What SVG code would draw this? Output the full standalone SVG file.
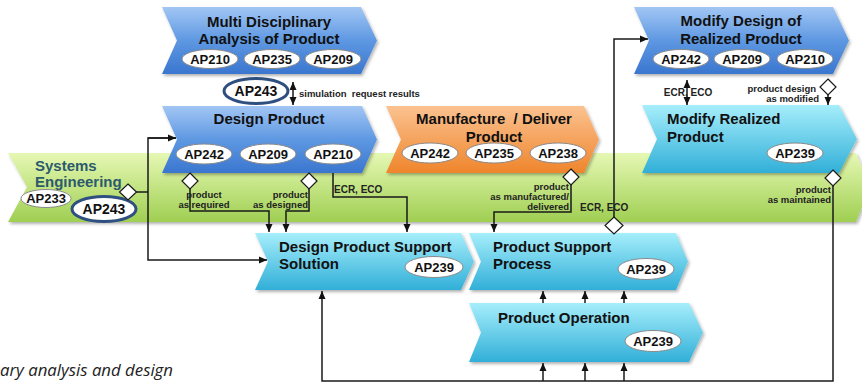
<svg xmlns="http://www.w3.org/2000/svg" width="862" height="385" viewBox="0 0 862 385">
<defs>
<linearGradient id="gGreen" x1="0" y1="0" x2="0" y2="1"><stop offset="0" stop-color="#e6f8b4"/><stop offset="1" stop-color="#9fcf52"/></linearGradient>
<linearGradient id="gBlue" x1="0" y1="0" x2="0" y2="1"><stop offset="0" stop-color="#a2c6f4"/><stop offset="0.5" stop-color="#5e98e2"/><stop offset="1" stop-color="#3a76cf"/></linearGradient>
<linearGradient id="gCyan" x1="0" y1="0" x2="0" y2="1"><stop offset="0" stop-color="#a6eefb"/><stop offset="1" stop-color="#31afd8"/></linearGradient>
<linearGradient id="gOrange" x1="0" y1="0" x2="0" y2="1"><stop offset="0" stop-color="#fbc290"/><stop offset="1" stop-color="#ef852c"/></linearGradient>
<filter id="sh" x="-10%" y="-10%" width="120%" height="130%"><feDropShadow dx="1.5" dy="2" stdDeviation="1.5" flood-color="#000" flood-opacity="0.3"/></filter>
<marker id="ar" markerUnits="userSpaceOnUse" markerWidth="8" markerHeight="8" refX="8" refY="4" orient="auto-start-reverse"><path d="M0,0.5 L8,4 L0,7.5 z" fill="#111"/></marker>
</defs>
<style>
.title{font-family:"Liberation Sans",Arial,sans-serif;font-weight:bold;font-size:15px;fill:#111}
.se{font-family:"Liberation Sans",Arial,sans-serif;font-weight:bold;font-size:15px;fill:#2d5a6c}
.ap{font-family:"Liberation Sans",Arial,sans-serif;font-weight:bold;font-size:13px;fill:#111;text-anchor:middle}
.ap2{font-family:"Liberation Sans",Arial,sans-serif;font-weight:bold;font-size:14px;fill:#111;text-anchor:middle}
.lbl{font-family:"Liberation Sans",Arial,sans-serif;font-weight:bold;font-size:9.5px;fill:#222}
.ecr{font-family:"Liberation Sans",Arial,sans-serif;font-weight:bold;font-size:10px;fill:#222}
.ell{fill:#fff;stroke:#8a8a8a;stroke-width:1}
.ellb{fill:#fff;stroke:#2f4f80;stroke-width:3}
.con{fill:none;stroke:#1a1a1a;stroke-width:1.5}
.dia{fill:#fff;stroke:#1a1a1a;stroke-width:1.2}
.note{font-family:"Open Sans",Lato,sans-serif;font-style:italic;font-size:17px;fill:#222}
</style>

<g id="systems-engineering">
<path d="M8,153 L856,153 L870,187 L856,222 L8,222 L27,187 z" fill="url(#gGreen)" filter="url(#sh)"/>
<text class="se" x="35" y="171">Systems</text>
<text class="se" x="35" y="187">Engineering</text>
<ellipse class="ell" cx="46" cy="198.5" rx="25" ry="9"/>
<text class="ap" x="46" y="203">AP233</text>
<ellipse class="ellb" cx="104" cy="209" rx="32" ry="12.5"/>
<text class="ap2" x="104" y="214">AP243</text>
</g>

<g id="multi-disciplinary">
<path d="M162,7 L361,7 L377,40.5 L361,74 L162,74 L177,40.5 z" fill="url(#gBlue)" filter="url(#sh)"/>
<text class="title" x="269" y="27" text-anchor="middle">Multi Disciplinary</text>
<text class="title" x="269" y="44" text-anchor="middle">Analysis of Product</text>
<ellipse class="ell" cx="210" cy="59" rx="28" ry="9.5"/><text class="ap" x="210" y="64">AP210</text>
<ellipse class="ell" cx="272" cy="59" rx="28" ry="9.5"/><text class="ap" x="272" y="64">AP235</text>
<ellipse class="ell" cx="333" cy="59" rx="28" ry="9.5"/><text class="ap" x="333" y="64">AP209</text>
</g>

<g id="ap243-sim">
<ellipse class="ellb" cx="256" cy="91" rx="32" ry="12.5"/>
<text class="ap2" x="256" y="96">AP243</text>
</g>

<g id="design-product">
<path d="M162,106 L362,106 L377,139.5 L362,173 L162,173 L177,139.5 z" fill="url(#gBlue)" filter="url(#sh)"/>
<text class="title" x="269" y="124" text-anchor="middle">Design Product</text>
<ellipse class="ell" cx="204" cy="154" rx="28" ry="10"/><text class="ap" x="204" y="159">AP242</text>
<ellipse class="ell" cx="268" cy="154" rx="28" ry="10"/><text class="ap" x="268" y="159">AP209</text>
<ellipse class="ell" cx="333" cy="154" rx="28" ry="10"/><text class="ap" x="333" y="159">AP210</text>
</g>

<g id="manufacture-deliver">
<path d="M386,106 L584,106 L599,139.5 L584,173 L386,173 L401,139.5 z" fill="url(#gOrange)" filter="url(#sh)"/>
<text class="title" x="494" y="124" text-anchor="middle" xml:space="preserve">Manufacture  / Deliver</text>
<text class="title" x="494" y="142" text-anchor="middle">Product</text>
<ellipse class="ell" cx="430" cy="153" rx="28" ry="10"/><text class="ap" x="430" y="158">AP242</text>
<ellipse class="ell" cx="494" cy="153" rx="28" ry="10"/><text class="ap" x="494" y="158">AP235</text>
<ellipse class="ell" cx="558" cy="153" rx="28" ry="10"/><text class="ap" x="558" y="158">AP238</text>
</g>

<g id="modify-design">
<path d="M634,7 L833,7 L849,40.5 L833,74 L634,74 L649,40.5 z" fill="url(#gBlue)" filter="url(#sh)"/>
<text class="title" x="741" y="26" text-anchor="middle">Modify Design of</text>
<text class="title" x="741" y="44" text-anchor="middle">Realized Product</text>
<ellipse class="ell" cx="681" cy="59" rx="28" ry="9.5"/><text class="ap" x="681" y="64">AP242</text>
<ellipse class="ell" cx="742" cy="59" rx="28" ry="9.5"/><text class="ap" x="742" y="64">AP209</text>
<ellipse class="ell" cx="805" cy="59" rx="28" ry="9.5"/><text class="ap" x="805" y="64">AP210</text>
</g>

<g id="modify-realized">
<path d="M642,105 L839,105 L857,139 L839,173 L642,173 L657,139 z" fill="url(#gCyan)" filter="url(#sh)"/>
<text class="title" x="667" y="124">Modify Realized</text>
<text class="title" x="667" y="142">Product</text>
<ellipse class="ell" cx="795" cy="153" rx="28" ry="10"/><text class="ap" x="795" y="158">AP239</text>
</g>

<g id="design-product-support">
<path d="M255,233 L461,233 L474,261.5 L461,290 L255,290 L268,261.5 z" fill="url(#gCyan)" filter="url(#sh)"/>
<text class="title" x="279" y="252">Design Product Support</text>
<text class="title" x="279" y="269">Solution</text>
<ellipse class="ell" cx="434" cy="267" rx="29" ry="10.5"/><text class="ap" x="434" y="272">AP239</text>
</g>

<g id="product-support-process">
<path d="M469,233 L676,233 L688,261.5 L676,290 L469,290 L481,261.5 z" fill="url(#gCyan)" filter="url(#sh)"/>
<text class="title" x="493" y="252">Product Support</text>
<text class="title" x="493" y="269">Process</text>
<ellipse class="ell" cx="646" cy="269" rx="28" ry="10.5"/><text class="ap" x="646" y="274">AP239</text>
</g>

<g id="product-operation">
<path d="M469,303 L689,303 L703,332.5 L689,362 L469,362 L481,332.5 z" fill="url(#gCyan)" filter="url(#sh)"/>
<text class="title" x="498" y="323">Product Operation</text>
<ellipse class="ell" cx="653" cy="341" rx="28" ry="10.5"/><text class="ap" x="653" y="346">AP239</text>
</g>

<g id="connectors">
<path class="con" d="M136,192 H148"/>
<path class="con" d="M176,138 H148 V260 H267" marker-end="url(#ar)"/>
<path class="con" d="M148,138 H176" marker-end="url(#ar)"/>
<path class="con" d="M190,189 V211 H269 V232" marker-end="url(#ar)"/>
<path class="con" d="M309,189 V211 H286 V232" marker-end="url(#ar)"/>
<path class="con" d="M333,173 V197 H407 V232" marker-end="url(#ar)"/>
<path class="con" d="M571,185 V212 H494 V232" marker-end="url(#ar)"/>
<path class="con" d="M614,217 V39 H648" marker-end="url(#ar)"/>
<path class="con" d="M833,186 V381 H322 V291" marker-end="url(#ar)"/>
<path class="con" d="M543,381 V363" marker-end="url(#ar)"/>
<path class="con" d="M585,381 V363" marker-end="url(#ar)"/>
<path class="con" d="M624,381 V363" marker-end="url(#ar)"/>
<path class="con" d="M543,303 V291" marker-end="url(#ar)"/>
<path class="con" d="M585,303 V291" marker-end="url(#ar)"/>
<path class="con" d="M624,303 V291" marker-end="url(#ar)"/>
<path class="con" d="M293,82 V105" marker-start="url(#ar)" marker-end="url(#ar)"/>
<path class="con" d="M687,80 V105" marker-start="url(#ar)" marker-end="url(#ar)"/>
<path class="con" d="M828,95 V105" marker-end="url(#ar)"/>
<polygon class="dia" points="128,184 136.5,192 128,200 119.5,192"/>
<polygon class="dia" points="190,173 198,181 190,189 182,181"/>
<polygon class="dia" points="309,173 317,181 309,189 301,181"/>
<polygon class="dia" points="571,169 579,177 571,185 563,177"/>
<polygon class="dia" points="614,217 623,225.5 614,234 605,225.5"/>
<polygon class="dia" points="833,170 841,178 833,186 825,178"/>
<polygon class="dia" points="828,79 836,87 828,95 820,87"/>
<text class="lbl" x="299" y="96.5" xml:space="preserve">simulation  request results</text>
<text class="lbl" x="204" y="197.5" text-anchor="middle">product</text>
<text class="lbl" x="204" y="207.5" text-anchor="middle">as required</text>
<text class="lbl" x="308" y="197.5" text-anchor="end">product</text>
<text class="lbl" x="308" y="207.5" text-anchor="end">as designed</text>
<text class="ecr" x="334" y="193">ECR, ECO</text>
<text class="lbl" x="569" y="189.5" text-anchor="end">product</text>
<text class="lbl" x="569" y="199.5" text-anchor="end">as manufactured/</text>
<text class="lbl" x="569" y="209.5" text-anchor="end">delivered</text>
<text class="ecr" x="580" y="211">ECR, ECO</text>
<text class="ecr" x="688" y="96" text-anchor="middle">ECR, ECO</text>
<text class="lbl" x="816" y="91.5" text-anchor="end">product design</text>
<text class="lbl" x="819" y="101.5" text-anchor="end">as modified</text>
<text class="lbl" x="831" y="192.5" text-anchor="end">product</text>
<text class="lbl" x="831" y="202.5" text-anchor="end">as maintained</text>
</g>

<text class="note" x="0" y="376" textLength="173" lengthAdjust="spacingAndGlyphs">ary analysis and design</text>
</svg>
